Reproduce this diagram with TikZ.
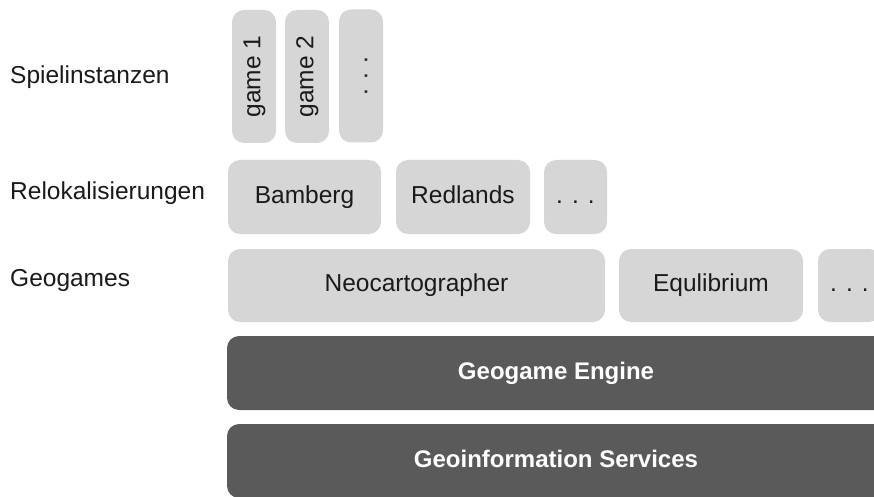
\documentclass[tikz,border=0pt]{standalone}
\usepackage{fontspec}
\setmainfont{Liberation Sans}
\definecolor{layerlight}{HTML}{D6D6D6}
\definecolor{layerdark}{HTML}{5A5A5A}
\definecolor{labeltext}{HTML}{1A1A1A}

\tikzstyle{layer} = [rectangle, rounded corners=12pt, fill=layerlight, text=labeltext, inner sep=0pt, text height=18pt, text depth=5.4pt, font=\fontsize{24.5}{28}\selectfont]
\tikzstyle{base} = [rectangle, rounded corners=12pt, fill=layerdark, text=white, inner sep=0pt, text height=18pt, text depth=5.4pt, font=\fontsize{24}{28}\selectfont\bfseries, minimum width=700pt, minimum height=74pt]
\tikzstyle{instance} = [layer, rotate=90, minimum width=133pt, minimum height=44pt]
\tikzstyle{reloc} = [layer, minimum height=74pt]
\tikzstyle{rowlabel} = [anchor=base west, text=labeltext, inner sep=0pt, font=\fontsize{24.5}{28}\selectfont]

\begin{document}
\begin{tikzpicture}[x=1pt, y=-1pt]
\useasboundingbox (0,0) rectangle (874,497);
\clip (0,0) rectangle (874,497);
% Spielinstanzen
\node [instance] (Game1) at (254,76.5) {game 1};
\node [instance] (Game2) at (307,76.5) {game 2};
\node [instance] (GameMore) at (361,76) {. . .};
% Relokalisierungen
\node [reloc, minimum width=153pt] (Bamberg) at (304.5,197) {Bamberg};
\node [reloc, minimum width=134pt] (Redlands) at (463,197) {Redlands};
\node [reloc, minimum width=63pt] (RelocMore) at (575.5,197) {. . .};
% Geogames
\node [reloc, minimum width=377pt, minimum height=73pt] (Neo) at (416.5,285.5) {Neocartographer};
\node [reloc, minimum width=184pt, minimum height=73pt] (Equ) at (711,285.5) {Equlibrium};
\node [reloc, minimum width=63pt, minimum height=73pt] (GeoMore) at (849.5,285.5) {. . .};
% Basisschichten
\node [base] (Engine) at (577,373) {\hspace*{-42pt}Geogame Engine};
\node [base] (Services) at (577,461) {\hspace*{-42pt}Geoinformation Services};
% Zeilen
\node [rowlabel] (SpielLbl) at (10,83.3) {Spielinstanzen};
\node [rowlabel] (RelocLbl) at (10,199.3) {Relokalisierungen};
\node [rowlabel] (GeoLbl) at (10,286.7) {Geogames};
\end{tikzpicture}
\end{document}
